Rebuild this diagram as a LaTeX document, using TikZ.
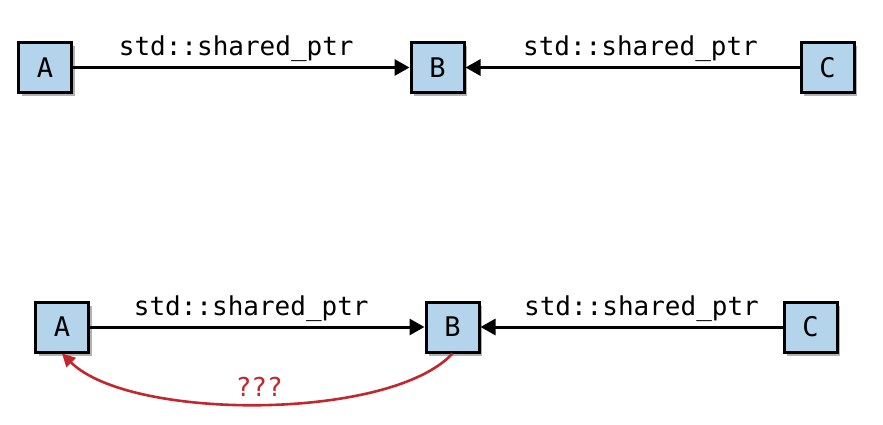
\documentclass[tikz,border=0pt]{standalone}
\usepackage{fontspec}
\setmonofont{DejaVu Sans Mono}
\usepackage{tikz}
\usetikzlibrary{positioning,arrows.meta,shadows}
\definecolor{boxblue}{RGB}{179,212,234}
\definecolor{ptrred}{RGB}{193,39,45}

\begin{document}
\begin{tikzpicture}[x=1pt,y=-1pt,
    obj/.style={draw, line width=3pt, fill=boxblue, minimum width=53pt, minimum height=50pt,
      inner sep=0pt, font=\fontsize{27}{27}\ttfamily,
      drop shadow={shadow xshift=3pt, shadow yshift=-4pt, opacity=0.3, fill=black}},
    ptr/.style={line width=3pt, -{Triangle[length=15pt,width=16pt]}},
    lbl/.style={anchor=base, yshift=12pt, font=\fontsize{26}{26}\ttfamily},
    weak/.style={line width=2.6pt, ptrred, -{Triangle[length=13pt,width=13pt]}}]
                    \useasboundingbox (0,0) rectangle (883,425);

                    % top row
                    \node[obj] (A1) at (45,67.5) {A};
                    \node[obj] (B1) at (437.5,67.5) {B};
                    \node[obj] (C1) at (827.5,67.5) {C};

                    \draw[ptr] (A1) -- (B1) node[lbl, midway, xshift=-5pt] {std::shared\_ptr};
                    \draw[ptr] (C1) -- (B1) node[lbl, midway, xshift=8pt] {std::shared\_ptr};

                    % bottom row
                    \node[obj] (A2) at (62,327) {A};
                    \node[obj] (B2) at (452.5,327) {B};
                    \node[obj] (C2) at (810.5,327) {C};

                    \draw[ptr] (A2) -- (B2) node[lbl, midway, xshift=-6pt] {std::shared\_ptr};
                    \draw[ptr] (C2) -- (B2) node[lbl, midway, xshift=10pt] {std::shared\_ptr};

                    \draw[weak] (B2.south) .. controls (390,421) and (130,421) .. (A2.south)
                      node[pos=0.5, anchor=base, yshift=8pt, text=ptrred, font=\fontsize{26}{26}\ttfamily] {???};

                  \end{tikzpicture}
\end{document}
